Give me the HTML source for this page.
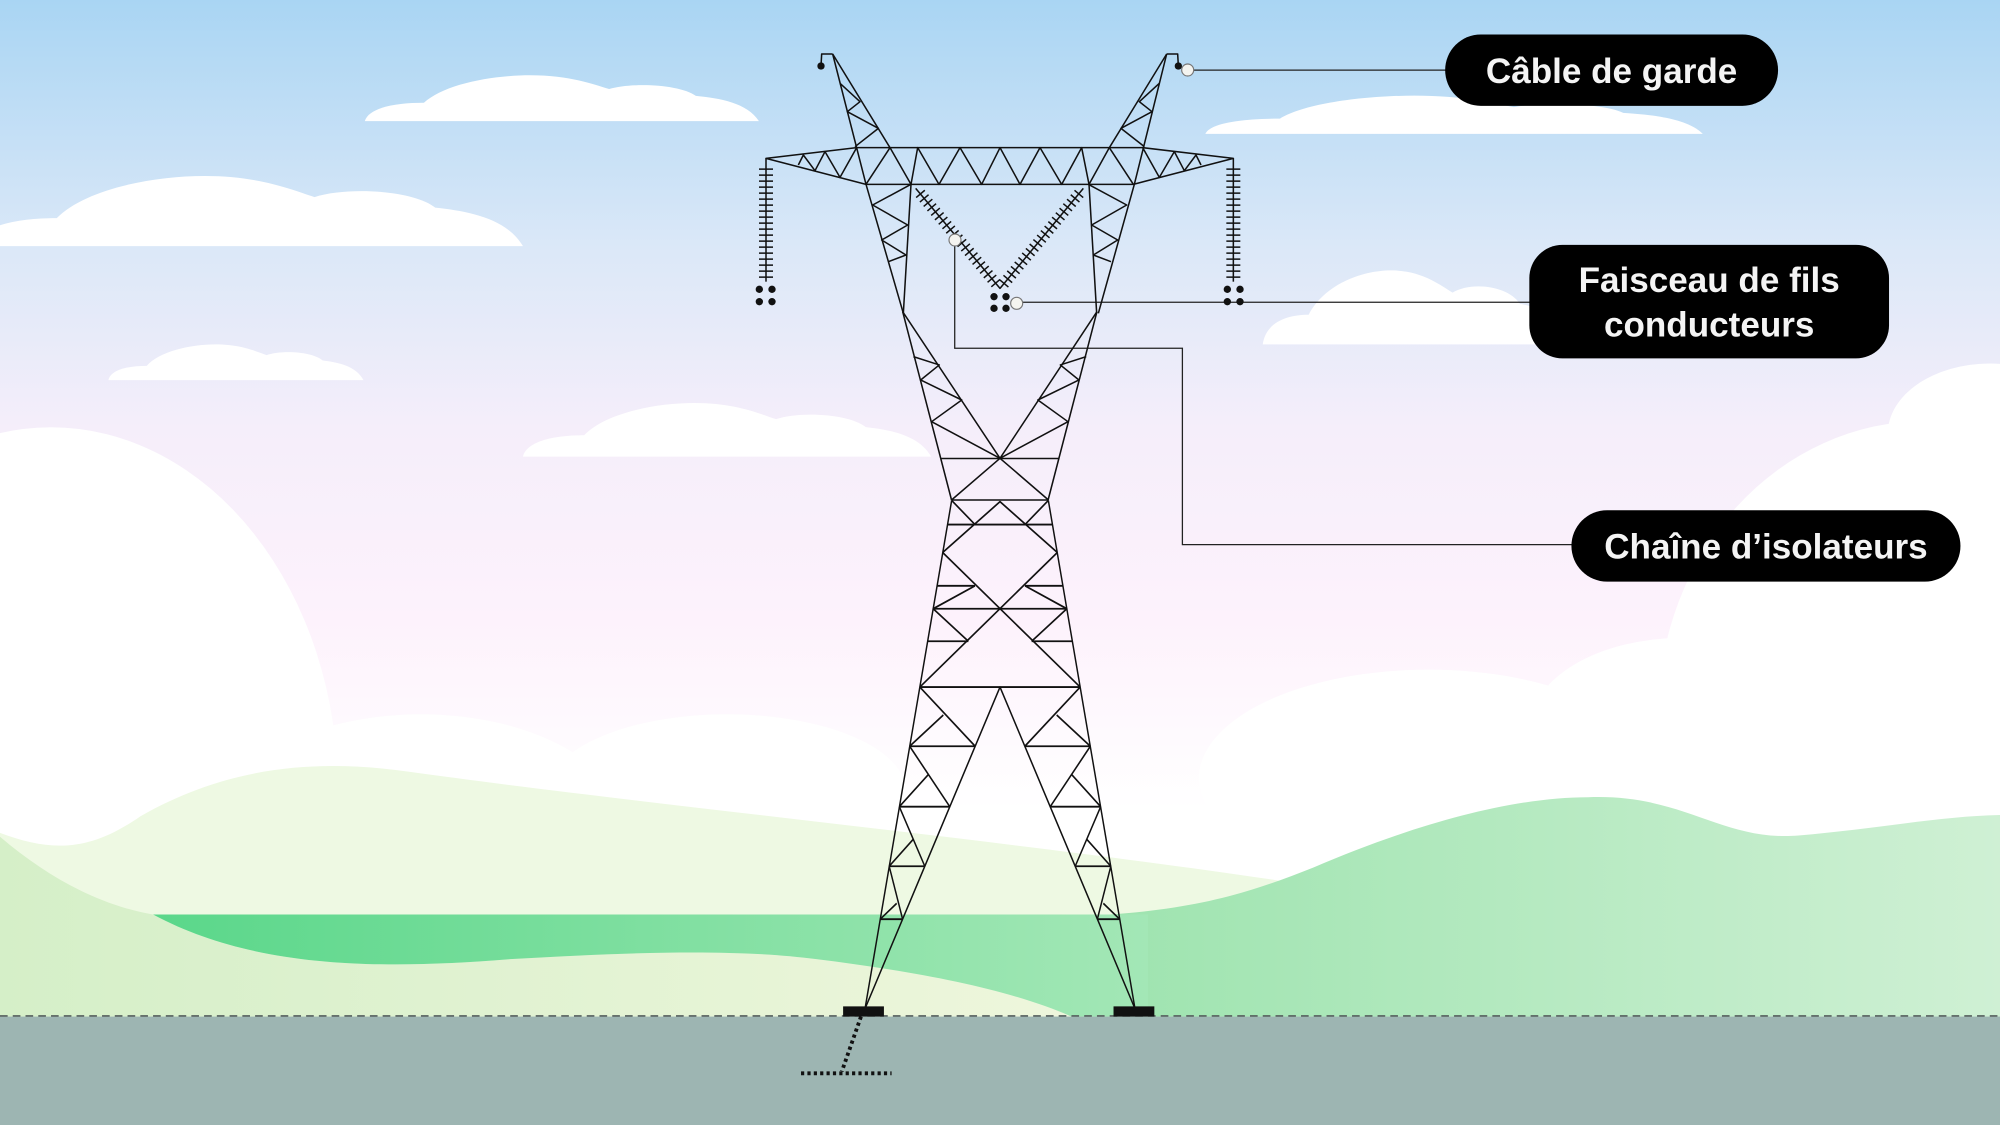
<!DOCTYPE html>
<html><head><meta charset="utf-8"><style>
html,body{margin:0;padding:0;width:2000px;height:1125px;overflow:hidden}
svg{display:block}
</style></head><body>
<svg width="2000" height="1125" viewBox="0 0 1568 882" preserveAspectRatio="none" xmlns="http://www.w3.org/2000/svg">
<defs>
<linearGradient id="sky" x1="0" y1="0" x2="0" y2="1">
<stop offset="0" stop-color="#a9d5f3"/>
<stop offset="0.22" stop-color="#dbe8f8"/>
<stop offset="0.38" stop-color="#f5eefa"/>
<stop offset="0.55" stop-color="#fdf2fc"/>
<stop offset="0.72" stop-color="#ffffff"/>
</linearGradient>
<linearGradient id="rg" gradientUnits="userSpaceOnUse" x1="880" y1="0" x2="1568" y2="0">
<stop offset="0" stop-color="#9fe4b0"/>
<stop offset="1" stop-color="#cff0d4"/>
</linearGradient>
<linearGradient id="band" gradientUnits="userSpaceOnUse" x1="120" y1="0" x2="900" y2="0">
<stop offset="0" stop-color="#5ad78a"/>
<stop offset="1" stop-color="#a3e7b6"/>
</linearGradient>
<linearGradient id="ll" gradientUnits="userSpaceOnUse" x1="0" y1="0" x2="840" y2="0">
<stop offset="0" stop-color="#d5efc8"/>
<stop offset="1" stop-color="#eef6dc"/>
</linearGradient>
<path id="cl" d="M0,0 C0.01,-0.3 0.08,-0.4 0.15,-0.4 C0.2,-0.8 0.32,-1 0.42,-1 C0.52,-1 0.58,-0.8 0.62,-0.7 C0.68,-0.85 0.8,-0.8 0.84,-0.55 C0.9,-0.5 0.97,-0.4 1,0 Z"/>
</defs>
<rect width="1568" height="882" fill="url(#sky)"/>
<g fill="#fff">
<use href="#cl" transform="translate(286,95) scale(309,36)"/>
<use href="#cl" transform="translate(-20,193) scale(430,55)"/>
<use href="#cl" transform="translate(85,298) scale(200,28)"/>
<use href="#cl" transform="translate(410,358) scale(320,42)"/>
<use href="#cl" transform="translate(945,105) scale(390,30)"/>
<use href="#cl" transform="translate(990,270) scale(240,58)"/>
<ellipse cx="40" cy="620" rx="225" ry="285"/>
<ellipse cx="1560" cy="340" rx="80" ry="55"/>
<ellipse cx="1510" cy="560" rx="210" ry="230"/>
<ellipse cx="330" cy="650" rx="160" ry="90"/>
<ellipse cx="570" cy="620" rx="140" ry="60"/>
<ellipse cx="1120" cy="610" rx="180" ry="85"/>
<ellipse cx="1320" cy="570" rx="120" ry="70"/>
</g>
<!-- hills -->
<path d="M0,653 C40,668 70,668 110,640 C180,600 250,595 320,605 C500,630 800,660 1000,690 C1100,705 1300,720 1568,730 L1568,797 L0,797 Z" fill="#eef9e3"/>
<path d="M120,717 C200,760 300,760 400,752 C500,746 580,744 640,752 C720,762 790,775 840,797 L0,797 L0,656 C40,690 80,710 120,717 Z" fill="url(#ll)"/>
<path d="M870,717 C940,712 980,700 1030,680 C1100,650 1180,625 1245,625 C1320,622 1350,660 1410,655 C1470,650 1520,640 1568,639 L1568,797 L870,797 Z" fill="url(#rg)"/>
<path d="M120,717 L900,717 L900,797 L840,797 C790,775 720,762 640,752 C580,744 500,746 400,752 C300,760 200,760 120,717 Z" fill="url(#band)"/>
<!-- ground -->
<rect x="0" y="797" width="1568" height="85" fill="#9db5b2"/>
<line x1="0" y1="796.5" x2="1568" y2="796.5" stroke="#56605e" stroke-width="1.3" stroke-dasharray="6 4"/>

<!-- connectors -->
<g stroke="#222" stroke-width="1" fill="none">
<polyline points="931,55 1140,55"/>
<polyline points="797,237 1205,237"/>
<polyline points="748.5,187 748.5,273 927,273 927,427 1240,427"/>
</g>

<!-- upper tower (zoom1 coords) -->
<g transform="matrix(0.26134 0 0 0.26134 580.16 31.36)" stroke="#111" stroke-width="4.6" fill="none" stroke-linejoin="round">
<polyline points="243,78 245,42 278,42"/>
<polyline points="1315,78 1313,42 1280,42"/>
<polyline points="278,42 378,433 490,820"/>
<polyline points="278,42 450,323 513,433 490,820"/>
<polyline points="1280,42 1183,433 1075,820"/>
<polyline points="1280,42 1108,323 1047,433 1070,820"/>
<polyline points="300,130 360,185 322,215 415,265 345,320"/>
<polyline points="1258,130 1198,185 1236,215 1143,265 1213,320"/>
<line x1="350" y1="323" x2="1210" y2="323"/>
<line x1="378" y1="433" x2="1183" y2="433"/>
<polyline points="350,323 78,355 378,433"/>
<polyline points="1208,323 1480,355 1180,433"/>
<polyline points="175,375 190,345 225,392 255,335 300,412 350,323"/>
<polyline points="1383,375 1368,345 1333,392 1303,335 1258,412 1208,323"/>
<line x1="378" y1="433" x2="450" y2="323"/>
<line x1="1180" y1="433" x2="1108" y2="323"/>
<polyline points="513,433 533,323 597,433 660,323 725,433 780,323 840,433 900,323 965,433 1025,323 1047,433"/>
<polyline points="513,433 398,495 503,555 425,600 498,645 445,665"/>
<polyline points="1045,433 1160,495 1055,555 1133,600 1060,645 1113,665"/>
<line x1="78" y1="355" x2="78" y2="725"/>
<line x1="1480" y1="355" x2="1480" y2="725"/>
<line x1="78" y1="385" x2="78" y2="720" stroke-width="42" stroke-dasharray="4.5 13.5"/>
<line x1="1480" y1="385" x2="1480" y2="720" stroke-width="42" stroke-dasharray="4.5 13.5"/>
<polyline points="527,445 780,745 1030,445"/>
<line x1="540" y1="460" x2="770" y2="733" stroke-width="34" stroke-dasharray="4.5 13"/>
<line x1="1018" y1="460" x2="790" y2="733" stroke-width="34" stroke-dasharray="4.5 13"/>
</g>
<g transform="matrix(0.26134 0 0 0.26134 580.16 31.36)" fill="#111">
<circle cx="243" cy="78" r="11"/><circle cx="1315" cy="78" r="11"/>
<circle cx="58" cy="748" r="11"/><circle cx="96" cy="748" r="11"/><circle cx="58" cy="785" r="11"/><circle cx="96" cy="785" r="11"/>
<circle cx="1462" cy="748" r="11"/><circle cx="1500" cy="748" r="11"/><circle cx="1462" cy="785" r="11"/><circle cx="1500" cy="785" r="11"/>
<circle cx="762" cy="770" r="11"/><circle cx="798" cy="770" r="11"/><circle cx="762" cy="805" r="11"/><circle cx="798" cy="805" r="11"/>
<g fill="#f4f4f0" stroke="#777" stroke-width="3.5">
<circle cx="1343" cy="90" r="18"/><circle cx="645" cy="600" r="18"/><circle cx="830" cy="790" r="18"/>
</g>
</g>

<!-- middle section (main coords) -->
<g stroke="#111" stroke-width="1.2" fill="none" stroke-linejoin="round">
<polyline points="707.7,244.4 746,392"/>
<polyline points="707.7,244.4 784,359.3 822,392"/>
<polyline points="860,244.4 821.7,392"/>
<polyline points="860,244.4 784,359.3 746,392"/>
<line x1="738" y1="359.5" x2="830" y2="359.5"/>
<line x1="746" y1="392" x2="822" y2="392"/>
<polyline points="716.1,279.6 736.4,286.1 721.8,297.9 754,313.6 730.4,330.6 784,359.3"/>
<polyline points="851.6,279.6 831.3,286.1 845.9,297.9 813.7,313.6 837.3,330.6 784,359.3"/>
</g>

<!-- lower section (zoom2 coords) -->
<g transform="matrix(0.26134 0 0 0.32667 658.56 344.96)" stroke="#111" stroke-width="4.4" fill="none" stroke-linejoin="round">
<line x1="335" y1="145" x2="75" y2="1365"/>
<line x1="625" y1="145" x2="885" y2="1365"/>
<polyline points="75,1365 480,593 885,1365"/>
<line x1="322.6" y1="203" x2="637.4" y2="203"/>
<line x1="291.3" y1="350" x2="405" y2="350"/><line x1="555" y1="350" x2="668.7" y2="350"/>
<line x1="279.6" y1="405" x2="680.4" y2="405"/>
<line x1="263" y1="483" x2="385" y2="483"/><line x1="575" y1="483" x2="697" y2="483"/>
<line x1="239.5" y1="593" x2="720.5" y2="593"/>
<line x1="335" y1="145" x2="405" y2="203"/><line x1="625" y1="145" x2="555" y2="203"/>
<polyline points="308,270 480,148 652,270"/>
<line x1="308" y1="270" x2="720.5" y2="593"/>
<line x1="652" y1="270" x2="239.5" y2="593"/>
<polyline points="405,350 279.6,405 385,483"/>
<polyline points="555,350 680.4,405 575,483"/>
<line x1="209" y1="735" x2="405.5" y2="735"/>
<line x1="178" y1="880" x2="329.4" y2="880"/>
<line x1="147.6" y1="1023" x2="254.4" y2="1023"/>
<line x1="120.8" y1="1150" x2="187.8" y2="1150"/>
<line x1="239.5" y1="593" x2="405.5" y2="735"/><line x1="209" y1="735" x2="310" y2="660"/>
<line x1="209" y1="735" x2="329.4" y2="880"/><line x1="178" y1="880" x2="265" y2="803"/>
<line x1="178" y1="880" x2="254.4" y2="1023"/><line x1="147.6" y1="1023" x2="220" y2="958"/>
<line x1="147.6" y1="1023" x2="187.8" y2="1150"/><line x1="120.8" y1="1150" x2="170" y2="1112"/>
<line x1="554.5" y1="735" x2="751" y2="735"/>
<line x1="630.6" y1="880" x2="782" y2="880"/>
<line x1="705.6" y1="1023" x2="812.4" y2="1023"/>
<line x1="772" y1="1150" x2="839" y2="1150"/>
<line x1="720.5" y1="593" x2="554.5" y2="735"/><line x1="751" y1="735" x2="650" y2="660"/>
<line x1="751" y1="735" x2="630.6" y2="880"/><line x1="782" y1="880" x2="695" y2="803"/>
<line x1="782" y1="880" x2="705.6" y2="1023"/><line x1="812.4" y1="1023" x2="740" y2="958"/>
<line x1="812.4" y1="1023" x2="772" y2="1150"/><line x1="839" y1="1150" x2="790" y2="1112"/>
</g>

<!-- footings -->
<rect x="661" y="789" width="32" height="8" fill="#111"/>
<rect x="873" y="789" width="32" height="8" fill="#111"/>
<g stroke="#111" stroke-width="3" fill="none" stroke-dasharray="2.5 2.5">
<line x1="675" y1="797" x2="660" y2="840"/>
<line x1="628" y1="841.5" x2="699" y2="841.5"/>
</g>

<!-- labels -->
<g font-family="Liberation Sans, Arial, sans-serif" font-weight="bold" fill="#f4f4f4" font-size="27.5" text-anchor="middle">
<rect x="1133" y="27" width="261" height="56" rx="28" fill="#000"/>
<text x="1263.5" y="65">Câble de garde</text>
<rect x="1199" y="192" width="282" height="89" rx="26" fill="#000"/>
<text x="1340" y="229">Faisceau de fils</text>
<text x="1340" y="264">conducteurs</text>
<rect x="1232" y="400" width="305" height="56" rx="28" fill="#000"/>
<text x="1384.5" y="438">Chaîne d’isolateurs</text>
</g>
</svg>
</body></html>
